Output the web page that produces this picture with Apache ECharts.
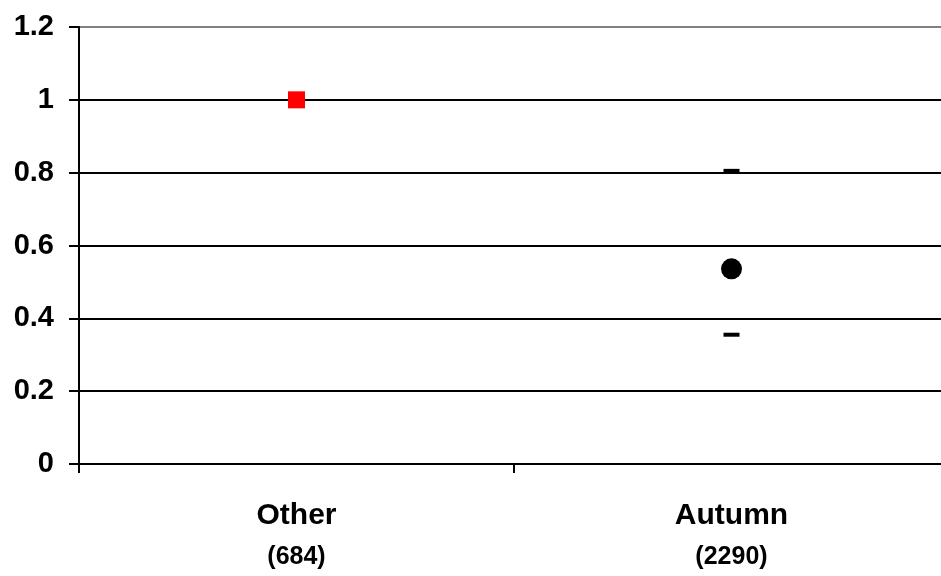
<!DOCTYPE html>
<html>
<head>
<meta charset="utf-8">
<script src="https://cdn.jsdelivr.net/npm/echarts@6/dist/echarts.min.js"></script>
<style>
html,body{margin:0;padding:0;background:#fff;}
#chart{width:941px;height:576px;}
</style>
</head>
<body>
<div id="chart"></div>
<script>
const categories = ['Other', 'Autumn'];
const counts = ['(684)', '(2290)'];
const estimate = [1, 0.536];
const upper = [null, 0.805];
const lower = [null, 0.355];
const yMin = 0, yMax = 1.2, yStep = 0.2;

const chart = echarts.init(document.getElementById('chart'), null, {renderer: 'canvas'});
const FONT = '"Liberation Sans", Arial, sans-serif';

const pointData = estimate.map((v, i) => ({
  value: [categories[i], v],
  symbol: i === 0 ? 'rect' : 'circle',
  symbolSize: i === 0 ? 17 : 21,
  itemStyle: {color: i === 0 ? '#ff0000' : '#000000', opacity: 1}
}));
const boundData = [];
categories.forEach((c, i) => {
  if (upper[i] != null) boundData.push([c, upper[i]]);
  if (lower[i] != null) boundData.push([c, lower[i]]);
});

const nLines = Math.round((yMax - yMin) / yStep) + 1;
const splitColors = Array.from({length: nLines}, (_, k) => k === nLines - 1 ? '#808080' : '#000000');

chart.setOption({
  backgroundColor: '#ffffff',
  animation: false,
  grid: {left: 79, width: 870, top: 27, height: 437, containLabel: false, outerBoundsMode: 'none'},
  xAxis: {
    type: 'category',
    data: categories,
    boundaryGap: true,
    axisLine: {show: true, lineStyle: {color: '#000', width: 2}},
    axisTick: {show: true, length: 9, lineStyle: {color: '#000', width: 2}},
    splitLine: {show: false},
    axisLabel: {
      margin: 32,
      formatter: (val, idx) => '{a|' + val + '}\n{b|' + counts[idx] + '}',
      rich: {
        a: {fontFamily: FONT, fontWeight: 'bold', fontSize: 30, color: '#000', lineHeight: 40},
        b: {fontFamily: FONT, fontWeight: 'bold', fontSize: 25, color: '#000', lineHeight: 42}
      }
    }
  },
  yAxis: {
    type: 'value',
    min: yMin, max: yMax, interval: yStep,
    axisLine: {show: true, lineStyle: {color: '#000', width: 2}},
    axisTick: {show: true, length: 10, lineStyle: {color: '#000', width: 2}},
    splitLine: {show: true, lineStyle: {color: splitColors, width: 2}},
    axisLabel: {
      margin: 25,
      fontFamily: FONT, fontWeight: 'bold', fontSize: 29, color: '#000'
    }
  },
  series: [
    {
      type: 'scatter',
      name: 'bounds',
      data: boundData,
      symbol: 'rect',
      symbolSize: [16, 4],
      itemStyle: {color: '#000', opacity: 1},
      z: 3
    },
    {
      type: 'scatter',
      name: 'estimate',
      data: pointData,
      z: 4
    }
  ]
});
</script>
</body>
</html>
